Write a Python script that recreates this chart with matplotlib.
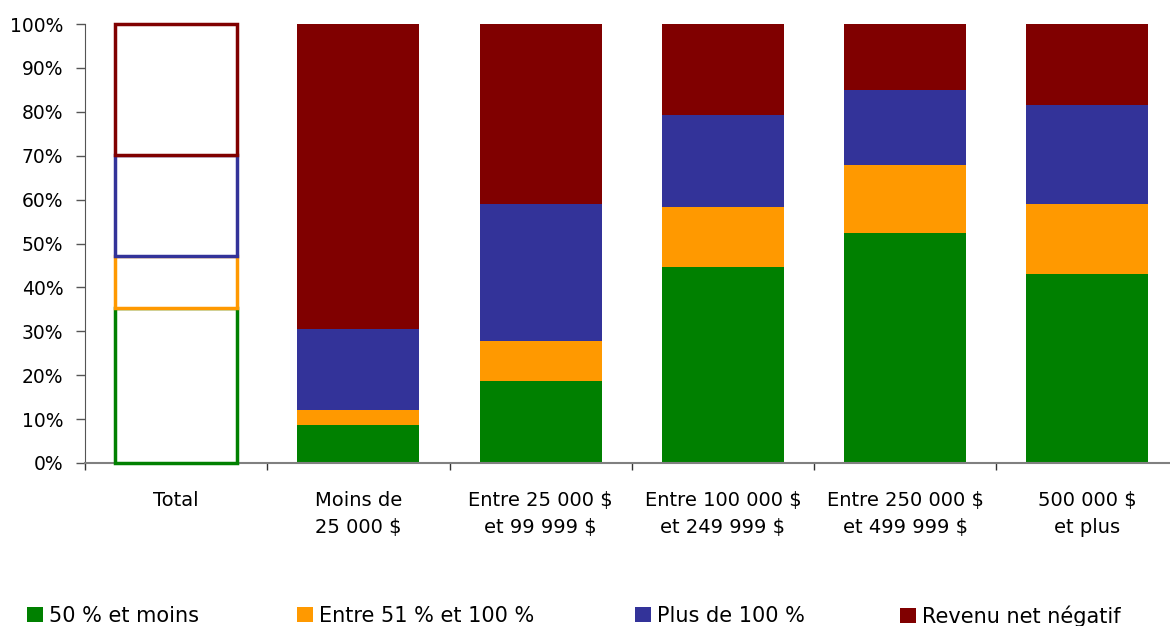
import numpy as np
import matplotlib
matplotlib.use("Agg")
import matplotlib.pyplot as plt
from matplotlib.patches import Patch
from matplotlib.ticker import PercentFormatter

# share of farms by ratio class, per income bracket (in %)
categories = ["Total", "Moins de\n25 000 $", "Entre 25 000 $\net 99 999 $",
              "Entre 100 000 $\net 249 999 $", "Entre 250 000 $\net 499 999 $",
              "500 000 $\net plus"]
series_names = ["50 % et moins", "Entre 51 % et 100 %", "Plus de 100 %",
                "Revenu net négatif"]
low = [35.2, 8.7, 18.7, 44.6, 52.4, 43.1]
mid = [11.9, 3.4, 9.1, 13.7, 15.5, 15.9]
high = [23.1, 18.4, 31.2, 21.0, 17.1, 22.5]
negative = [29.8, 69.5, 41.0, 20.7, 15.0, 18.5]

colors = ["#008000", "#FF9900", "#333399", "#800000"]

plt.rcParams["font.family"] = "DejaVu Sans"

fig = plt.figure(figsize=(11.7, 6.26), dpi=100)
ax = fig.add_axes([85 / 1170, 163 / 626, 1093.5 / 1170, 439 / 626])

x = np.arange(len(categories))
width = 0.67
bottom = np.zeros(len(categories))
for vals, col in zip([low, mid, high, negative], colors):
    vals = np.asarray(vals)
    # first bar (Total) is drawn as an outline only
    ax.bar(x[:1], vals[:1], width, bottom=bottom[:1], facecolor="white",
           edgecolor=col, linewidth=2.5, clip_on=False, zorder=3)
    ax.bar(x[1:], vals[1:], width, bottom=bottom[1:], color=col,
           linewidth=0, zorder=2)
    bottom += vals

ax.set_xlim(-0.5, len(categories) - 0.5)
ax.set_ylim(0, 100)
ax.set_yticks(np.arange(0, 101, 10))
ax.yaxis.set_major_formatter(PercentFormatter(decimals=0))
ax.tick_params(axis="y", length=6.5, width=1, color="#555555", pad=9,
               labelsize=13.5)

ax.set_xticks(x, categories)
ax.set_xticks(np.arange(-0.5, len(categories)), minor=True)
ax.tick_params(axis="x", which="major", length=0, pad=20, labelsize=14)
ax.tick_params(axis="x", which="minor", length=5, width=1, color="#333333")
for lab in ax.get_xticklabels():
    lab.set_linespacing(1.55)

for side in ["top", "right"]:
    ax.spines[side].set_visible(False)
ax.spines["left"].set_color("#555555")
ax.spines["bottom"].set_color("#808080")
ax.spines["bottom"].set_linewidth(1.5)

# one legend per entry so each sits at its own place along the bottom
legend_x = [27, 297, 635, 900]
for name, col, lx in zip(series_names, colors, legend_x):
    fig.legend([Patch(facecolor=col, edgecolor="none")], [name],
               loc="center left", bbox_to_anchor=(lx / 1170, 10 / 626),
               frameon=False, fontsize=15, handlelength=0.75,
               handleheight=0.75, handletextpad=0.3, borderpad=0,
               borderaxespad=0)

fig.savefig("out.png", dpi=100)
